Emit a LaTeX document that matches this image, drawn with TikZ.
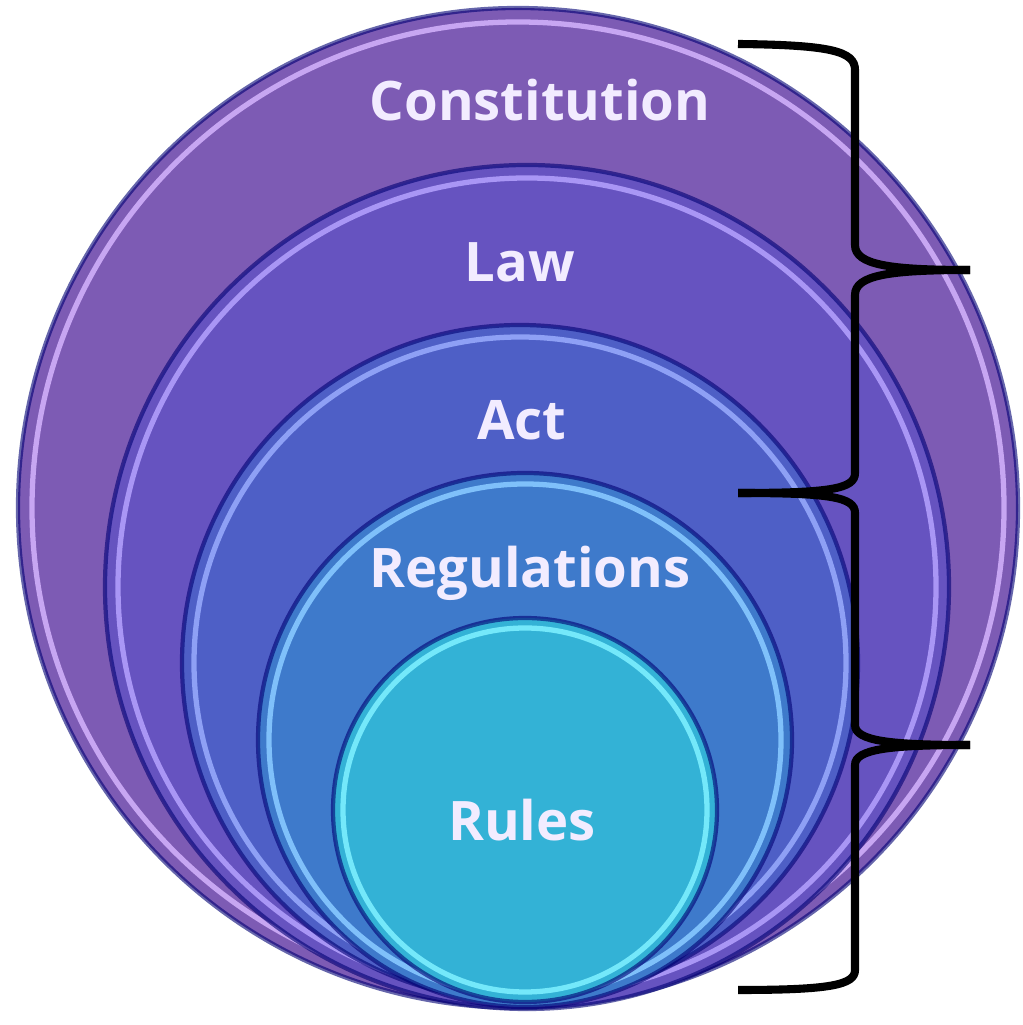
\documentclass[tikz,border=0pt]{standalone}
\usepackage{fontspec}
\setmainfont{Open Sans}
\usepackage{tikz}
\usetikzlibrary{positioning,calc}
\definecolor{constfill}{HTML}{7D5BB4}
\definecolor{constrim}{HTML}{C7A6F2}
\definecolor{lawfill}{HTML}{6653C0}
\definecolor{lawrim}{HTML}{A996F5}
\definecolor{actfill}{HTML}{4E5FC6}
\definecolor{actrim}{HTML}{8EA0F5}
\definecolor{regfill}{HTML}{3E7ACB}
\definecolor{regrim}{HTML}{7FC0FA}
\definecolor{rulefill}{HTML}{33B2D6}
\definecolor{rulerim}{HTML}{74E8FA}
\definecolor{labeltext}{HTML}{F2ECFF}

\begin{document}
\begin{tikzpicture}[
    level/.style={font=\fontsize{15.5}{18}\selectfont\bfseries, text=labeltext},
    shadowline/.style={draw=black!55!blue, line width=1.2pt, opacity=0.6},
    brace/.style={draw=black, line width=2.3pt}
]
    \useasboundingbox (0,0) rectangle (10.22,10.25);

    % Constitution (outer circle)
    \fill[constfill] (5.18,5.17) circle (5.0);
    \draw[shadowline] (5.18,5.17) circle (5.0);
    \draw[constrim, line width=1.5pt] (5.18,5.17) circle (4.86);

    % Law
    \fill[lawfill] (5.27,4.38) circle (4.22);
    \draw[shadowline] (5.27,4.38) circle (4.22);
    \draw[lawrim, line width=1.5pt] (5.27,4.38) circle (4.09);

    % Act
    \fill[actfill] (5.20,3.62) circle (3.38);
    \draw[shadowline] (5.20,3.62) circle (3.38);
    \draw[actrim, line width=1.5pt] (5.20,3.62) circle (3.26);

    % Regulations
    \fill[regfill] (5.25,2.85) circle (2.67);
    \draw[shadowline] (5.25,2.85) circle (2.67);
    \draw[regrim, line width=1.5pt] (5.25,2.85) circle (2.56);

    % Rules (inner circle)
    \fill[rulefill] (5.25,2.15) circle (1.92);
    \draw[shadowline] (5.25,2.15) circle (1.92);
    \draw[rulerim, line width=1.5pt] (5.25,2.15) circle (1.82);

    % Labels
    \node[level] (constitution) at (5.40,9.25) {Constitution};
    \node[level] (law) at (5.20,7.63) {Law};
    \node[level] (act) at (5.22,6.05) {Act};
    \node[level] (regulations) at (5.30,4.52) {Regulations};
    \node[level] (rules) at (5.22,2.05) {Rules};

    % Upper brace
    \draw[brace] (7.38,9.81) .. controls (8.30,9.80) and (8.55,9.74) .. (8.55,9.55)
        -- (8.55,7.80) .. controls (8.55,7.60) and (8.90,7.55) .. (9.70,7.55);
    \draw[brace] (9.70,7.55) .. controls (8.90,7.55) and (8.55,7.50) .. (8.55,7.30)
        -- (8.55,5.52) .. controls (8.55,5.36) and (8.30,5.32) .. (7.38,5.32);

    % Lower brace
    \draw[brace] (7.38,5.32) .. controls (8.30,5.32) and (8.55,5.28) .. (8.55,5.12)
        -- (8.55,3.00) .. controls (8.55,2.84) and (8.90,2.80) .. (9.70,2.80);
    \draw[brace] (9.70,2.80) .. controls (8.90,2.80) and (8.55,2.76) .. (8.55,2.60)
        -- (8.55,0.55) .. controls (8.55,0.40) and (8.30,0.35) .. (7.38,0.35);
\end{tikzpicture}
\end{document}
